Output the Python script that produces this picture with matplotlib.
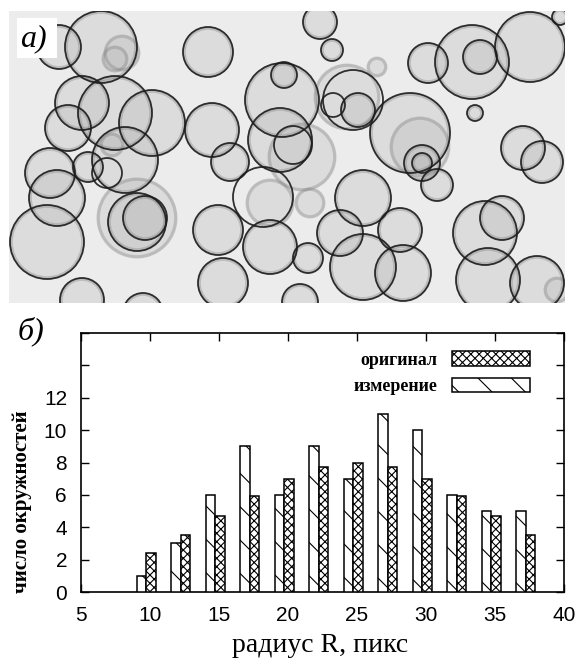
import matplotlib
matplotlib.use("Agg")
import matplotlib.pyplot as plt
from matplotlib.patches import Circle, Rectangle, Patch

# ---------------- data ----------------
# histogram (panel б)
radius_bins = [10, 12.5, 15, 17.5, 20, 22.5, 25, 27.5, 30, 32.5, 35, 37.5]
measured = [1, 3, 6, 9, 6, 9, 7, 11, 10, 6, 5, 5]          # измерение
original = [2.4, 3.5, 4.7, 5.9, 7, 7.7, 8, 7.7, 7, 5.9, 4.7, 3.5]  # оригинал
xticks = [5, 10, 15, 20, 25, 30, 35, 40]
yticks = [0, 2, 4, 6, 8, 10, 12, 14, 16]
ytick_labels = ["0", "2", "4", "6", "8", "10", "12", "", ""]
legend_labels = ["оригинал", "измерение"]

# circles image (panel a): centre x, centre y, radius (image pixels), kind
# kind: b = gray disk + black ring, g = gray disk only, r = black ring only
circ_x = [59, 101, 115, 122, 82, 115, 152, 68, 125, 112, 50, 88, 107, 57, 47, 137, 137, 145, 82, 143,
          208, 320, 332, 282, 284, 280, 302, 293, 212, 230, 263, 270, 310, 218, 270, 308, 223, 300,
          347, 353, 333, 358, 377, 363, 340, 363,
          428, 472, 480, 530, 560, 475, 410, 420, 422, 422, 437, 523, 542, 502, 485, 488, 537, 557, 400, 403]
circ_y = [47, 47, 59, 53, 103, 113, 123, 128, 160, 145, 173, 167, 173, 198, 242, 218, 222, 218, 300, 313,
          52, 22, 50, 100, 75, 140, 157, 145, 130, 162, 197, 203, 203, 230, 247, 258, 283, 302,
          97, 100, 105, 110, 67, 198, 233, 267,
          63, 62, 57, 47, 17, 113, 133, 147, 163, 163, 185, 148, 162, 218, 233, 280, 283, 290, 230, 273]
circ_r = [22, 36, 13, 18, 27, 37, 33, 23, 33, 12, 25, 15, 15, 28, 37, 40, 29, 22, 22, 20,
          25, 17, 11, 37, 13, 32, 34, 19, 27, 19, 30, 24, 15, 25, 27, 15, 25, 18,
          33, 30, 12, 17, 10, 28, 23, 33,
          20, 37, 17, 35, 8, 8, 40, 30, 18, 10, 16, 22, 21, 22, 32, 32, 27, 13, 22, 28]
circ_kind = ["b", "b", "g", "g", "b", "b", "b", "b", "b", "g", "b", "b", "r", "b", "b", "g", "b", "b", "b", "b",
             "b", "b", "b", "b", "b", "b", "g", "r", "b", "b", "r", "g", "g", "b", "b", "b", "b", "b",
             "g", "r", "r", "b", "g", "b", "b", "b",
             "b", "b", "b", "b", "b", "b", "b", "g", "b", "b", "b", "b", "b", "b", "b", "b", "b", "g", "b", "b"]

# ---------------- figure ----------------
W, H = 582, 664
fig = plt.figure(figsize=(W / 100, H / 100), dpi=100)
fig.patch.set_facecolor("white")

# ---- panel a: circles image ----
img_l, img_r, img_t, img_b = 9, 565, 11, 303
axa = fig.add_axes([img_l / W, 1 - img_b / H, (img_r - img_l) / W, (img_b - img_t) / H])
axa.set_xlim(img_l, img_r)
axa.set_ylim(img_b, img_t)
axa.set_facecolor("#ececec")
axa.set_xticks([])
axa.set_yticks([])
for s in axa.spines.values():
    s.set_visible(False)

for x, y, r, k in zip(circ_x, circ_y, circ_r, circ_kind):
    if k in ("b", "g"):
        axa.add_patch(Circle((x, y), r, facecolor="#b4b4b4", alpha=0.28,
                             edgecolor="none", zorder=2))
        axa.add_patch(Circle((x, y), r - 1.2, facecolor="none", edgecolor="#808080",
                             linewidth=2.4, alpha=0.35, zorder=3))
    if k in ("b", "r"):
        axa.add_patch(Circle((x, y), r, facecolor="none", edgecolor="#1c1c1c",
                             linewidth=1.3, alpha=0.9, zorder=4))

axa.add_patch(Rectangle((17, 18), 40, 40, facecolor="white", edgecolor="none", zorder=10))
axa.text(20, 39, "a)", fontsize=23, style="italic", family="Liberation Serif",
         ha="left", va="center", zorder=11)

# ---- panel б: histogram ----
ax_l, ax_r, ax_t, ax_b = 81, 564, 333, 592
ax = fig.add_axes([ax_l / W, 1 - ax_b / H, (ax_r - ax_l) / W, (ax_b - ax_t) / H])

plt.rcParams["hatch.linewidth"] = 0.8
bw = 0.70
x_meas = [b - 0.27 - bw / 2 for b in radius_bins]
x_orig = [b - 0.27 + bw / 2 for b in radius_bins]
ax.bar(x_meas, measured, width=bw, facecolor="white", edgecolor="black",
       linewidth=1.1, hatch="\\", zorder=3)
ax.bar(x_orig, original, width=bw, facecolor="white", edgecolor="black",
       linewidth=1.1, hatch="xxxx", zorder=3)

ax.set_xlim(5, 40)
ax.set_ylim(0, 16)
ax.set_xticks(xticks)
ax.set_yticks(yticks)
ax.set_yticklabels(ytick_labels)
ax.tick_params(direction="in", length=5.5, width=1.0, top=True, right=True,
               labelsize=15, pad=10)
for lab in ax.get_xticklabels() + ax.get_yticklabels():
    lab.set_family("Liberation Sans")
for s in ax.spines.values():
    s.set_linewidth(1.2)

handles = [Patch(facecolor="white", edgecolor="black", hatch="xxxx", linewidth=1.1),
           Patch(facecolor="white", edgecolor="black", hatch="\\", linewidth=1.1)]
ax.legend(handles, legend_labels, loc="upper right",
          bbox_to_anchor=((537 - ax_l) / (ax_r - ax_l), 1 - (344 - ax_t) / (ax_b - ax_t)),
          borderaxespad=0, frameon=False, markerfirst=False,
          handlelength=4.3, handleheight=0.85, handletextpad=0.8, labelspacing=0.5,
          prop={"family": "Liberation Serif", "weight": "bold", "size": 13})

fig.text(18 / W, 1 - 331 / H, "б)", fontsize=23, style="italic", family="Liberation Serif",
         ha="left", va="center")
fig.text(320 / W, 1 - 645 / H, "радиус R, пикс", fontsize=20, family="Liberation Serif",
         ha="center", va="center")
fig.text(22 / W, 1 - 502 / H, "число окружностей", fontsize=15, weight="bold",
         family="Liberation Serif", rotation=90, ha="center", va="center")

fig.savefig("out.png", dpi=100)
